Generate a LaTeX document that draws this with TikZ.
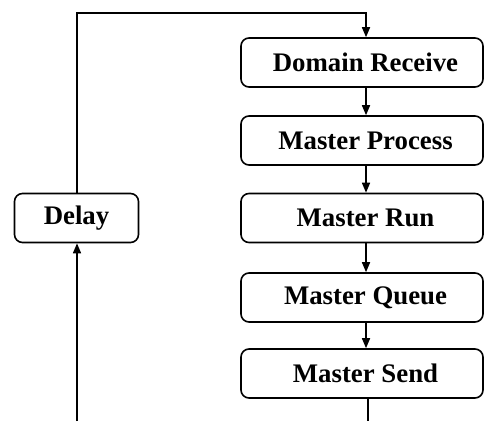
\documentclass[tikz,border=0pt]{standalone}
\usepackage{fontspec}
\setmainfont{Liberation Serif}
\usetikzlibrary{arrows.meta}
\begin{document}
\begin{tikzpicture}[x=1pt,y=-1pt,
  stage/.style={draw, line width=1.6pt, rounded corners=8pt, inner sep=0pt,
    minimum height=49pt, font=\bfseries\fontsize{26.8}{30}\selectfont},
  wide/.style={stage, minimum width=242pt},
  link/.style={line width=1.6pt},
  arr/.style={link, -{Triangle[length=10pt,width=8pt]}}]
  \useasboundingbox (0,0) rectangle (484,421);

  % pipeline stages (labels sit a little right of the box centre)
  \node[wide] (dr) at (362,62.5) {\hspace*{7pt}Domain Receive};
  \node[wide] (mp) at (362,140.5) {\hspace*{7pt}Master Process};
  \node[wide] (mr) at (362,218) {\hspace*{7pt}Master Run};
  \node[wide] (mq) at (362,297.5) {\hspace*{7pt}Master Queue};
  \node[wide] (ms) at (362,373.5) {\hspace*{7pt}Master Send};

  % feedback stage
  \node[stage, minimum width=124pt] (delay) at (76.5,218) {Delay};

  % helper coordinates for the connector routes
  \coordinate (colx) at (366,0);
  \coordinate (topy) at (0,13);
  \coordinate (outR) at (368,421);
  \coordinate (inL) at (77,421);

  % downward flow through the stages
  \draw[arr] (dr.south -| colx) -- (mp.north -| colx);
  \draw[arr] (mp.south -| colx) -- (mr.north -| colx);
  \draw[arr] (mr.south -| colx) -- (mq.north -| colx);
  \draw[arr] (mq.south -| colx) -- (ms.north -| colx);
  \draw[link] (ms.south -| outR) -- (outR);

  % loop back through the delay
  \draw[arr] (inL) -- (delay.south -| inL);
  \draw[arr] (delay.north -| inL) -- (inL |- topy) -- (colx |- topy) -- (dr.north -| colx);
\end{tikzpicture}
\end{document}
